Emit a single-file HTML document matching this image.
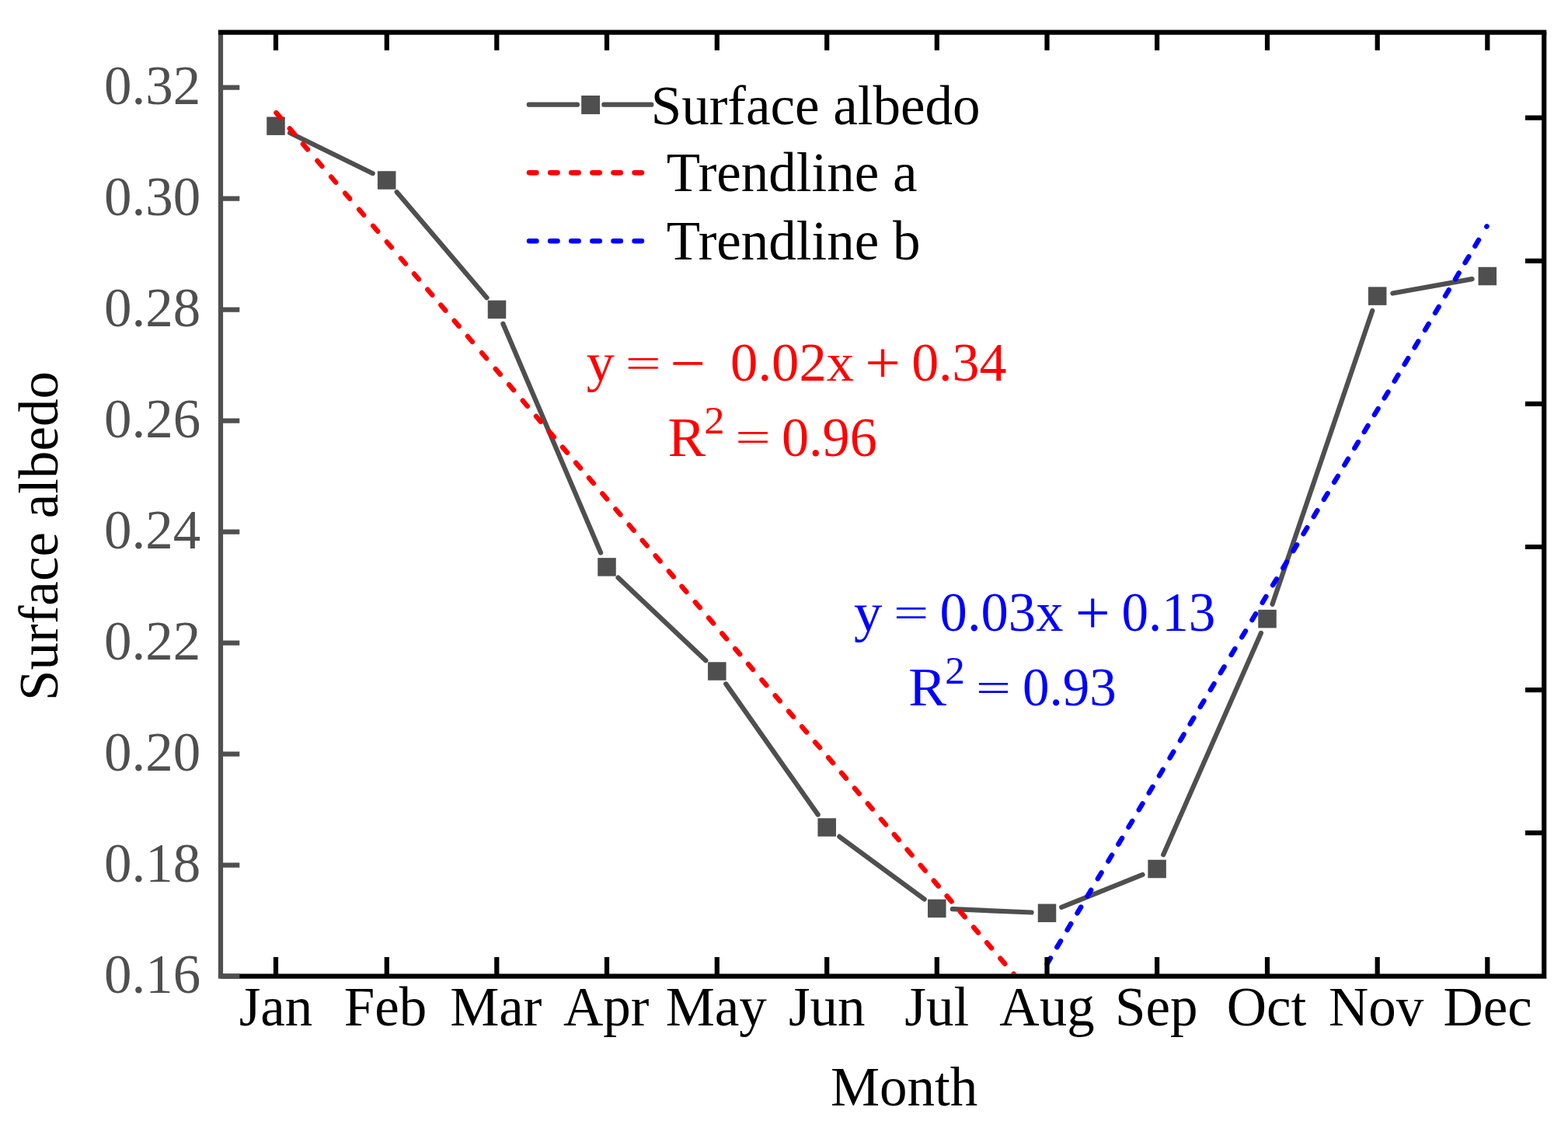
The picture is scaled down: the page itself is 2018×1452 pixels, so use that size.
<!DOCTYPE html>
<html><head><meta charset="utf-8"><title>Surface albedo by month</title><style>html,body{margin:0;padding:0;background:#fff;overflow:hidden}svg{display:block}</style></head>
<body>
<svg width="2018" height="1452" viewBox="0 0 2018 1452">
<rect width="2018" height="1452" fill="#fff"/>
<defs><clipPath id="pc"><rect x="287.1" y="44.7" width="1697.0" height="1208.9"/></clipPath></defs>
<path d="M373.0,171.0L479.7,223.2M510.7,247.2L626.5,383.2M647.4,416.8L773.1,711.5M795.5,743.6L908.3,850.3M934.3,880.4L1052.7,1048.6M1080.3,1076.9L1189.7,1157.5M1225.8,1170.2L1327.5,1174.5M1366.1,1167.9L1470.5,1125.9M1497.2,1100.2L1622.9,814.9M1637.5,777.7L1766.2,400.0M1792.4,377.5L1894.6,359.1" stroke="#4f4f4f" stroke-width="6.2" stroke-linecap="round" fill="none"/>
<rect x="343.25" y="150.45" width="23.5" height="23.5" fill="#4f4f4f"/>
<rect x="485.95" y="220.25" width="23.5" height="23.5" fill="#4f4f4f"/>
<rect x="627.75" y="386.65" width="23.5" height="23.5" fill="#4f4f4f"/>
<rect x="769.25" y="718.15" width="23.5" height="23.5" fill="#4f4f4f"/>
<rect x="911.05" y="852.25" width="23.5" height="23.5" fill="#4f4f4f"/>
<rect x="1052.45" y="1053.25" width="23.5" height="23.5" fill="#4f4f4f"/>
<rect x="1194.05" y="1157.65" width="23.5" height="23.5" fill="#4f4f4f"/>
<rect x="1335.75" y="1163.55" width="23.5" height="23.5" fill="#4f4f4f"/>
<rect x="1477.35" y="1106.75" width="23.5" height="23.5" fill="#4f4f4f"/>
<rect x="1619.25" y="784.85" width="23.5" height="23.5" fill="#4f4f4f"/>
<rect x="1760.95" y="369.35" width="23.5" height="23.5" fill="#4f4f4f"/>
<rect x="1902.55" y="343.75" width="23.5" height="23.5" fill="#4f4f4f"/>
<g clip-path="url(#pc)" fill="none" stroke-width="6.4" stroke-linecap="round"><path d="M355.46,145.11L361.00,151.58M372.79,165.35L378.77,172.34M389.92,185.36L395.90,192.35M408.45,207.01L414.44,214.00M426.19,227.72L432.17,234.71M444.16,248.71L450.14,255.70M462.17,269.75L468.15,276.74M480.16,290.77L486.14,297.76M497.87,311.46L503.85,318.44M515.92,332.54L521.90,339.53M533.00,352.50L538.99,359.48M550.33,372.74L556.31,379.72M567.35,392.61L573.33,399.60M584.71,412.89L590.69,419.87M601.92,432.99L607.90,439.98M620.12,454.25L626.10,461.24M637.78,474.88L643.77,481.87M655.11,495.12L661.09,502.11M672.78,515.76L678.76,522.75M689.98,535.85L695.96,542.84M706.91,555.63L712.89,562.61M724.02,575.61L730.00,582.60M741.11,595.58L747.10,602.57M757.91,615.20L763.89,622.19M775.24,635.45L781.23,642.44M792.38,655.46L798.36,662.45M809.73,675.73L815.71,682.72M826.68,695.53L832.66,702.52M843.62,715.32L849.60,722.31M860.82,735.40L866.80,742.39M877.45,754.84L883.43,761.82M894.80,775.10L900.78,782.08M912.14,795.35L918.12,802.34M929.24,815.33L935.23,822.32M946.17,835.10L952.15,842.09M963.09,854.87L969.07,861.86M980.41,875.10L986.39,882.09M997.73,895.33L1003.72,902.32M1015.06,915.57L1021.04,922.56M1032.08,935.46L1038.07,942.45M1049.08,955.31L1055.06,962.29M1066.07,975.16L1072.05,982.14M1083.00,994.93L1088.98,1001.92M1099.83,1014.59L1105.82,1021.58M1116.80,1034.41L1122.78,1041.40M1134.03,1054.54L1140.01,1061.52M1150.80,1074.13L1156.79,1081.12M1167.58,1093.73L1173.57,1100.72M1184.76,1113.79L1190.74,1120.78M1201.74,1133.63L1207.73,1140.62M1218.61,1153.33L1224.59,1160.32M1235.83,1173.45L1241.81,1180.44M1253.06,1193.58L1259.05,1200.57M1270.08,1213.45L1276.06,1220.44M1287.32,1233.60L1293.31,1240.59M1304.57,1253.75L1310.56,1260.73M1321.82,1273.89L1327.80,1280.88" stroke="#ff0000"/><path d="M1347.50,1240.80L1351.93,1233.37M1360.35,1219.25L1365.06,1211.35M1373.54,1197.12L1378.25,1189.22M1386.48,1175.41L1391.19,1167.51M1399.49,1153.60L1404.20,1145.69M1412.83,1131.21L1417.54,1123.31M1426.31,1108.60L1431.02,1100.70M1439.34,1086.75L1444.05,1078.85M1452.50,1064.68L1457.21,1056.78M1465.79,1042.38L1470.50,1034.48M1478.75,1020.64L1483.46,1012.74M1491.92,998.55L1496.63,990.64M1505.58,975.63L1510.29,967.73M1518.91,953.27L1523.62,945.37M1531.65,931.90L1536.36,924.00M1544.75,909.92L1549.47,902.02M1557.80,888.03L1562.52,880.13M1570.85,866.15L1575.56,858.24M1584.64,843.01L1589.36,835.11M1598.25,820.19L1602.96,812.28M1611.42,798.09L1616.14,790.19M1624.69,775.83L1629.41,767.93M1638.19,753.19L1642.90,745.29M1651.32,731.17L1656.03,723.26M1664.45,709.15L1669.16,701.24M1677.57,687.14L1682.28,679.23M1690.71,665.10L1695.42,657.19M1703.92,642.94L1708.63,635.04M1717.15,620.75L1721.86,612.85M1730.34,598.63L1735.05,590.72M1743.29,576.90L1748.00,569.00M1755.82,555.88L1760.53,547.98M1768.88,533.98L1773.59,526.08M1781.72,512.44L1786.43,504.54M1794.72,490.62L1799.44,482.72M1807.59,469.04L1812.30,461.14M1820.57,447.27L1825.28,439.36M1833.97,424.79L1838.68,416.88M1847.05,402.85L1851.76,394.95M1860.01,381.11L1864.72,373.21M1872.98,359.35L1877.69,351.45M1885.60,338.19L1890.31,330.28M1898.33,316.83L1903.04,308.93M1913.32,291.69L1913.52,291.35" stroke="#0000ff"/></g>
<path d="M284.0,1256.7H1990.3M1987.2,41.6V1259.8" stroke="#000" stroke-width="6.2" fill="none"/>
<path d="M355.0,41.6V64.8M355.0,1256.7V1232.0M497.8,41.6V64.8M497.8,1256.7V1232.0M639.3,41.6V64.8M639.3,1256.7V1232.0M781.0,41.6V64.8M781.0,1256.7V1232.0M922.8,41.6V64.8M922.8,1256.7V1232.0M1064.2,41.6V64.8M1064.2,1256.7V1232.0M1205.8,41.6V64.8M1205.8,1256.7V1232.0M1347.5,41.6V64.8M1347.5,1256.7V1232.0M1489.1,41.6V64.8M1489.1,1256.7V1232.0M1631.0,41.6V64.8M1631.0,1256.7V1232.0M1772.7,41.6V64.8M1772.7,1256.7V1232.0M1914.3,41.6V64.8M1914.3,1256.7V1232.0M1987.2,151.7H1963.0M1987.2,335.8H1963.0M1987.2,519.9H1963.0M1987.2,704.0H1963.0M1987.2,888.1H1963.0M1987.2,1072.2H1963.0" stroke="#000" stroke-width="6.2" fill="none"/>
<path d="M284.0,41.6V1259.8" stroke="#4f4f4f" stroke-width="6.2" fill="none"/>
<path d="M284.0,1256.70H308.3M284.0,1113.70H308.3M284.0,970.70H308.3M284.0,827.70H308.3M284.0,684.70H308.3M284.0,541.70H308.3M284.0,398.70H308.3M284.0,255.70H308.3M284.0,112.70H308.3" stroke="#4f4f4f" stroke-width="6.2" fill="none"/>
<path d="M280.9,41.6H1990.3" stroke="#000" stroke-width="6.2" fill="none"/>
<text transform="translate(134.0,1278.10) scale(1,1.01)" font-family="Liberation Serif, Times New Roman, serif" font-size="71" fill="#4f4f4f">0.16</text>
<text transform="translate(134.0,1135.10) scale(1,1.01)" font-family="Liberation Serif, Times New Roman, serif" font-size="71" fill="#4f4f4f">0.18</text>
<text transform="translate(134.0,992.10) scale(1,1.01)" font-family="Liberation Serif, Times New Roman, serif" font-size="71" fill="#4f4f4f">0.20</text>
<text transform="translate(134.0,849.10) scale(1,1.01)" font-family="Liberation Serif, Times New Roman, serif" font-size="71" fill="#4f4f4f">0.22</text>
<text transform="translate(134.0,706.10) scale(1,1.01)" font-family="Liberation Serif, Times New Roman, serif" font-size="71" fill="#4f4f4f">0.24</text>
<text transform="translate(134.0,563.10) scale(1,1.01)" font-family="Liberation Serif, Times New Roman, serif" font-size="71" fill="#4f4f4f">0.26</text>
<text transform="translate(134.0,420.10) scale(1,1.01)" font-family="Liberation Serif, Times New Roman, serif" font-size="71" fill="#4f4f4f">0.28</text>
<text transform="translate(134.0,277.10) scale(1,1.01)" font-family="Liberation Serif, Times New Roman, serif" font-size="71" fill="#4f4f4f">0.30</text>
<text transform="translate(134.0,134.10) scale(1,1.01)" font-family="Liberation Serif, Times New Roman, serif" font-size="71" fill="#4f4f4f">0.32</text>
<text x="355.0" y="1320" font-family="Liberation Serif, Times New Roman, serif" font-size="71" fill="#000" text-anchor="middle">Jan</text>
<text x="496.0" y="1320" font-family="Liberation Serif, Times New Roman, serif" font-size="71" fill="#000" text-anchor="middle">Feb</text>
<text x="638.3" y="1320" font-family="Liberation Serif, Times New Roman, serif" font-size="71" fill="#000" text-anchor="middle">Mar</text>
<text x="780.2" y="1320" font-family="Liberation Serif, Times New Roman, serif" font-size="71" fill="#000" text-anchor="middle">Apr</text>
<text x="921.8" y="1320" font-family="Liberation Serif, Times New Roman, serif" font-size="71" fill="#000" text-anchor="middle">May</text>
<text x="1064.2" y="1320" font-family="Liberation Serif, Times New Roman, serif" font-size="71" fill="#000" text-anchor="middle">Jun</text>
<text x="1205.8" y="1320" font-family="Liberation Serif, Times New Roman, serif" font-size="71" fill="#000" text-anchor="middle">Jul</text>
<text x="1347.5" y="1320" font-family="Liberation Serif, Times New Roman, serif" font-size="71" fill="#000" text-anchor="middle">Aug</text>
<text x="1488.3" y="1320" font-family="Liberation Serif, Times New Roman, serif" font-size="71" fill="#000" text-anchor="middle">Sep</text>
<text x="1630.0" y="1320" font-family="Liberation Serif, Times New Roman, serif" font-size="71" fill="#000" text-anchor="middle">Oct</text>
<text x="1771.1" y="1320" font-family="Liberation Serif, Times New Roman, serif" font-size="71" fill="#000" text-anchor="middle">Nov</text>
<text x="1914.7" y="1320" font-family="Liberation Serif, Times New Roman, serif" font-size="71" fill="#000" text-anchor="middle">Dec</text>
<text x="1163.6" y="1422.8" font-family="Liberation Serif, Times New Roman, serif" font-size="71" fill="#000" text-anchor="middle">Month</text>
<text transform="translate(73.5,690) rotate(-90)" font-family="Liberation Serif, Times New Roman, serif" font-size="71" fill="#000" text-anchor="middle">Surface albedo</text>
<path d="M680.8,134.7H743M777.3,134.7H838.3" stroke="#4f4f4f" stroke-width="6.2" stroke-linecap="round" fill="none"/>
<rect x="748.2" y="123" width="23.9" height="24" fill="#4f4f4f"/>
<path d="M681.1,222.35H826.5" stroke="#ff0000" stroke-width="6.6" stroke-dasharray="9.3 17.8" stroke-linecap="round" fill="none"/>
<path d="M681.1,310.3H826.5" stroke="#0000ff" stroke-width="6.6" stroke-dasharray="9.3 17.8" stroke-linecap="round" fill="none"/>
<text x="837.7" y="160.2" font-family="Liberation Serif, Times New Roman, serif" font-size="71" fill="#000">Surface albedo</text>
<text x="857.8" y="245.9" font-family="Liberation Serif, Times New Roman, serif" font-size="71" fill="#000">Trendline a</text>
<text x="857.8" y="333.5" font-family="Liberation Serif, Times New Roman, serif" font-size="71" fill="#000">Trendline b</text>
<text transform="translate(754.72,490.36) scale(1.0158,0.9685)" font-family="Liberation Serif, Times New Roman, serif" font-size="71" fill="#ff0000">y</text>
<text transform="translate(804.74,485.51) scale(1.1471,0.7831)" font-family="Liberation Serif, Times New Roman, serif" font-size="71" fill="#ff0000">=</text>
<text transform="translate(862.26,492.83) scale(1.1411,1.0746)" font-family="Liberation Serif, Times New Roman, serif" font-size="71" fill="#ff0000">−</text>
<text transform="translate(940.11,489.70) scale(0.9950,0.9974)" font-family="Liberation Serif, Times New Roman, serif" font-size="71" fill="#ff0000">0.02x</text>
<text transform="translate(1113.26,492.24) scale(1.1411,1.0855)" font-family="Liberation Serif, Times New Roman, serif" font-size="71" fill="#ff0000">+</text>
<text transform="translate(1173.13,489.90) scale(0.9856,0.9933)" font-family="Liberation Serif, Times New Roman, serif" font-size="71" fill="#ff0000">0.34</text>
<text transform="translate(859.60,587.00) scale(1.0264,1.0131)" font-family="Liberation Serif, Times New Roman, serif" font-size="71" fill="#ff0000">R</text>
<text transform="translate(906.29,558.00) scale(0.7413,0.7126)" font-family="Liberation Serif, Times New Roman, serif" font-size="71" fill="#ff0000">2</text>
<text transform="translate(946.28,582.38) scale(1.1381,0.7944)" font-family="Liberation Serif, Times New Roman, serif" font-size="71" fill="#ff0000">=</text>
<text transform="translate(1005.92,586.78) scale(0.9897,1.0161)" font-family="Liberation Serif, Times New Roman, serif" font-size="71" fill="#ff0000">0.96</text>
<text transform="translate(1099.11,812.44) scale(1.0246,0.9956)" font-family="Liberation Serif, Times New Roman, serif" font-size="71" fill="#0000ff">y</text>
<text transform="translate(1149.91,807.94) scale(1.1290,0.8056)" font-family="Liberation Serif, Times New Roman, serif" font-size="71" fill="#0000ff">=</text>
<text transform="translate(1209.61,811.98) scale(0.9944,1.0140)" font-family="Liberation Serif, Times New Roman, serif" font-size="71" fill="#0000ff">0.03x</text>
<text transform="translate(1383.83,814.75) scale(1.1229,1.1157)" font-family="Liberation Serif, Times New Roman, serif" font-size="71" fill="#0000ff">+</text>
<text transform="translate(1443.47,811.98) scale(0.9733,1.0161)" font-family="Liberation Serif, Times New Roman, serif" font-size="71" fill="#0000ff">0.13</text>
<text transform="translate(1169.20,908.20) scale(1.0286,0.9916)" font-family="Liberation Serif, Times New Roman, serif" font-size="71" fill="#0000ff">R</text>
<text transform="translate(1216.15,880.00) scale(0.7202,0.7084)" font-family="Liberation Serif, Times New Roman, serif" font-size="71" fill="#0000ff">2</text>
<text transform="translate(1256.03,903.21) scale(1.1229,0.7493)" font-family="Liberation Serif, Times New Roman, serif" font-size="71" fill="#0000ff">=</text>
<text transform="translate(1315.97,908.00) scale(0.9733,0.9954)" font-family="Liberation Serif, Times New Roman, serif" font-size="71" fill="#0000ff">0.93</text>
</svg>
</body></html>
